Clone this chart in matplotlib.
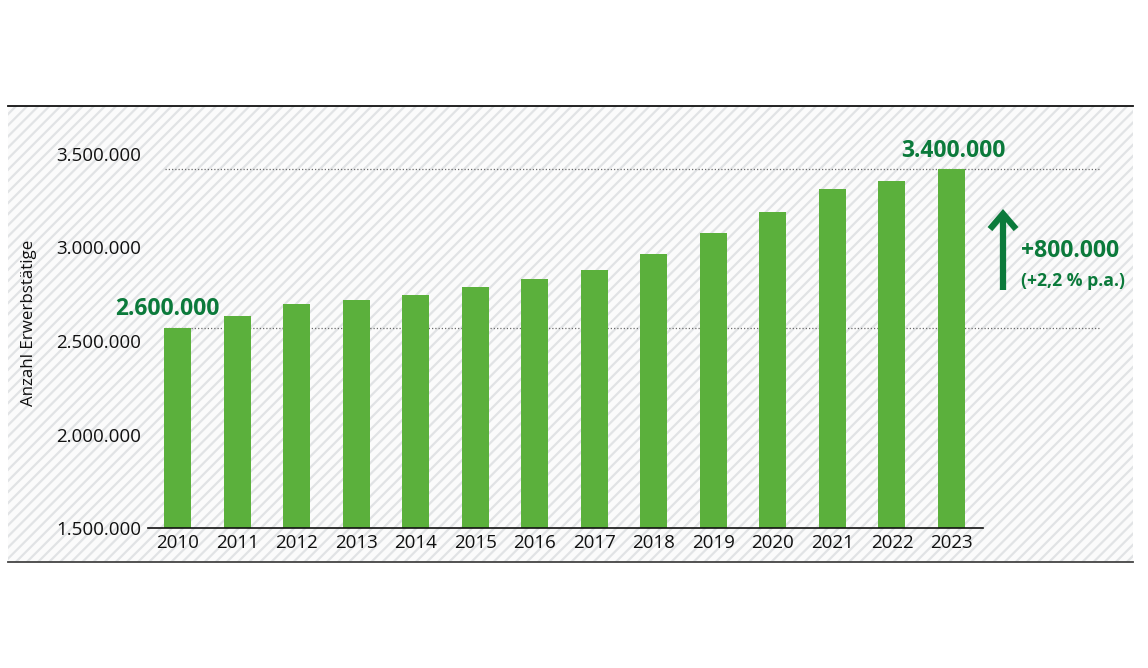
import matplotlib
matplotlib.use("Agg")
import matplotlib.pyplot as plt
from matplotlib.patches import Rectangle, FancyArrowPatch, ArrowStyle
from matplotlib.lines import Line2D
import matplotlib.transforms as mtransforms

# ---- data ----
years = ["2010", "2011", "2012", "2013", "2014", "2015", "2016",
         "2017", "2018", "2019", "2020", "2021", "2022", "2023"]
employed = [2567000, 2636000, 2700000, 2721000, 2748000, 2791000, 2833000,
            2881000, 2967000, 3079000, 3191000, 3313000, 3356000, 3420000]
y_ticks = [1500000, 2000000, 2500000, 3000000, 3500000]
y_tick_labels = ["1.500.000", "2.000.000", "2.500.000", "3.000.000", "3.500.000"]
y_label = "Anzahl Erwerbstätige"
start_label = "2.600.000"
end_label = "3.400.000"
growth_label = "+800.000"
growth_rate_label = "(+2,2 % p.a.)"

BAR = "#5bb03c"
DARK = "#0b7a3b"
FONT = ["Open Sans", "DejaVu Sans"]
plt.rcParams["font.family"] = FONT

W, H = 1148, 668
fig = plt.figure(figsize=(W / 100, H / 100), dpi=100)
fig.patch.set_facecolor("white")

def fx(x):
    return x / W

def fy(y):
    return 1 - y / H

# hatched panel background
plt.rcParams["hatch.color"] = "#e1e3e5"
plt.rcParams["hatch.linewidth"] = 1.6
panel = Rectangle((fx(8), fy(562)), fx(1133) - fx(8), fy(106) - fy(562),
                  transform=fig.transFigure, facecolor="#fbfbfb",
                  edgecolor="#e1e3e5", linewidth=0, hatch="///", zorder=0)
fig.add_artist(panel)
fig.add_artist(Line2D([fx(8), fx(1133)], [fy(106), fy(106)], color="#111111",
                      lw=1.3, transform=fig.transFigure))
fig.add_artist(Line2D([fx(8), fx(1133)], [fy(562), fy(562)], color="#444444",
                      lw=1.3, transform=fig.transFigure))

# axes
ax = fig.add_axes([fx(148), fy(528), fx(983) - fx(148), fy(154) - fy(528)])
ax.patch.set_alpha(0)
x = list(range(len(years)))
ax.bar(x, employed, width=0.453, color=BAR, zorder=3)
ax.set_xlim(-0.5, len(years) - 1 + 0.53)
ax.set_ylim(1500000, 3500000)
ax.set_yticks(y_ticks)
ax.set_yticklabels(y_tick_labels)
ax.set_xticks(x)
ax.set_xticklabels(years)
ax.tick_params(axis="both", length=0, labelsize=13.5, colors="#111111")
ax.tick_params(axis="y", pad=5)
ax.tick_params(axis="x", pad=4)
for s in ["top", "right", "left"]:
    ax.spines[s].set_visible(False)
ax.spines["bottom"].set_color("#111111")
ax.spines["bottom"].set_linewidth(1.2)
ax.spines["bottom"].set_zorder(4)

# dotted reference lines at start and end values
blend = mtransforms.blended_transform_factory(ax.transAxes, ax.transData)
x0 = (165 - 148) / (983 - 148)
x1 = (1100 - 148) / (983 - 148)
for v in (employed[0], employed[-1]):
    ax.plot([x0, x1], [v, v], transform=blend, clip_on=False,
            color="#6a6a6a", lw=0.9, linestyle=(0, (1, 1.6)), zorder=2)

# y-axis label
fig.text(fx(29), fy(323), y_label, rotation=90, ha="center", va="center",
         fontsize=12.2, color="#111111")

# annotations
fig.text(fx(167.5), fy(309), start_label, ha="center", va="center",
         fontsize=16.5, fontweight="bold", color=DARK)
fig.text(fx(953), fy(151), end_label, ha="center", va="center",
         fontsize=16.5, fontweight="bold", color=DARK)
fig.text(fx(1021), fy(251), growth_label, ha="left", va="center",
         fontsize=16.5, fontweight="bold", color=DARK)
fig.text(fx(1021), fy(281), growth_rate_label, ha="left", va="center",
         fontsize=12.7, fontweight="bold", color=DARK)

arrow = FancyArrowPatch((fx(1003), fy(290)), (fx(1003), fy(209)),
                        transform=fig.transFigure,
                        arrowstyle=ArrowStyle("->", head_length=0.55, head_width=0.47),
                        mutation_scale=20, color=DARK, lw=4.5,
                        shrinkA=0, shrinkB=0, capstyle="butt", joinstyle="miter")
fig.add_artist(arrow)

fig.savefig("out.png", dpi=100, facecolor="white")
